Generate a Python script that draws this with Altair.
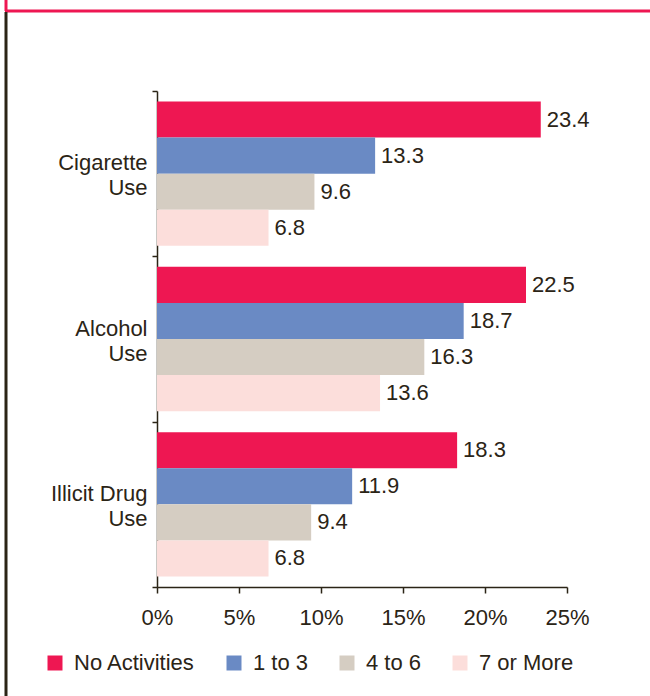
import altair as alt
import pandas as pd

categories = ["Cigarette|Use", "Alcohol|Use", "Illicit Drug|Use"]
series = ["No Activities", "1 to 3", "4 to 6", "7 or More"]
no_activities = [23.4, 22.5, 18.3]
one_to_three = [13.3, 18.7, 11.9]
four_to_six = [9.6, 16.3, 9.4]
seven_or_more = [6.8, 13.6, 6.8]
colors = ["#EE1752", "#6A8AC4", "#D5CDC2", "#FCDEDB"]
x_ticks = [0, 5, 10, 15, 20, 25]

TEXT = "#2B2416"
FONT = "Liberation Sans"
FS = 22

rows = []
for s, vals in zip(series, [no_activities, one_to_three, four_to_six, seven_or_more]):
    for c, v in zip(categories, vals):
        rows.append({"category": c, "series": s, "value": v})
df = pd.DataFrame(rows)

y_enc = alt.Y(
    "category:N",
    sort=categories,
    scale=alt.Scale(paddingInner=0, paddingOuter=0),
    axis=alt.Axis(
        title=None,
        labelExpr="split(datum.label, '|')",
        labelFontSize=FS,
        labelLineHeight=25,
        labelColor=TEXT,
        labelFont=FONT,
        labelPadding=5,
        labelOffset=-11,
        tickBand="extent",
        tickSize=5,
        tickColor=TEXT,
        tickWidth=1.5,
        domainColor=TEXT,
        domainWidth=1.5,
    ),
)
yoff_enc = alt.YOffset(
    "series:N", sort=series, scale=alt.Scale(paddingInner=0, paddingOuter=0.29)
)
x_enc = alt.X(
    "value:Q",
    scale=alt.Scale(domain=[0, 25], nice=False, zero=True),
    axis=alt.Axis(
        title=None,
        values=x_ticks,
        labelExpr="datum.value + '%'",
        labelFontSize=FS,
        labelColor=TEXT,
        labelFont=FONT,
        labelPadding=14,
        labelFlush=False,
        tickSize=6,
        tickColor=TEXT,
        tickWidth=1.5,
        domainColor=TEXT,
        domainWidth=1.5,
        grid=False,
    ),
)

bars = alt.Chart(df).mark_bar().encode(
    x=x_enc,
    y=y_enc,
    yOffset=yoff_enc,
    color=alt.Color(
        "series:N",
        sort=series,
        scale=alt.Scale(domain=series, range=colors),
        legend=alt.Legend(
            title=None,
            orient="none",
            legendX=-113,
            legendY=561,
            direction="horizontal",
            symbolType="square",
            symbolSize=225,
            symbolStrokeWidth=0,
            labelFontSize=FS,
            labelFont=FONT,
            labelColor=TEXT,
            labelOffset=8,
            columnPadding=27,
            padding=0,
        ),
    ),
)

labels = alt.Chart(df).mark_text(
    align="left", baseline="middle", dx=6, fontSize=FS, font=FONT, color=TEXT
).encode(
    x="value:Q",
    y=alt.Y("category:N", sort=categories),
    yOffset=alt.YOffset("series:N", sort=series),
    text=alt.Text("value:Q", format=".1f"),
)

one = pd.DataFrame({"k": [0]})
pink_h = alt.Chart(one).mark_rule(color="#EE1752", strokeWidth=3).encode(
    x=alt.value(-152), x2=alt.value(493), y=alt.value(-80)
)
pink_v = alt.Chart(one).mark_rule(color="#EE1752", strokeWidth=3).encode(
    x=alt.value(-151), y=alt.value(-91), y2=alt.value(-80)
)
dark_v = alt.Chart(one).mark_rule(color=TEXT, strokeWidth=3).encode(
    x=alt.value(-151), y=alt.value(-79), y2=alt.value(605)
)

chart = (
    alt.layer(bars, labels, pink_h, pink_v, dark_v)
    .properties(
        width=410,
        height=496,
        padding={"left": 157, "top": 91, "right": 83, "bottom": 109},
        autosize="none",
        background="white",
    )
    .configure_view(stroke=None)
)

chart.save("out.html", embed_options={"renderer": "svg", "actions": False})
